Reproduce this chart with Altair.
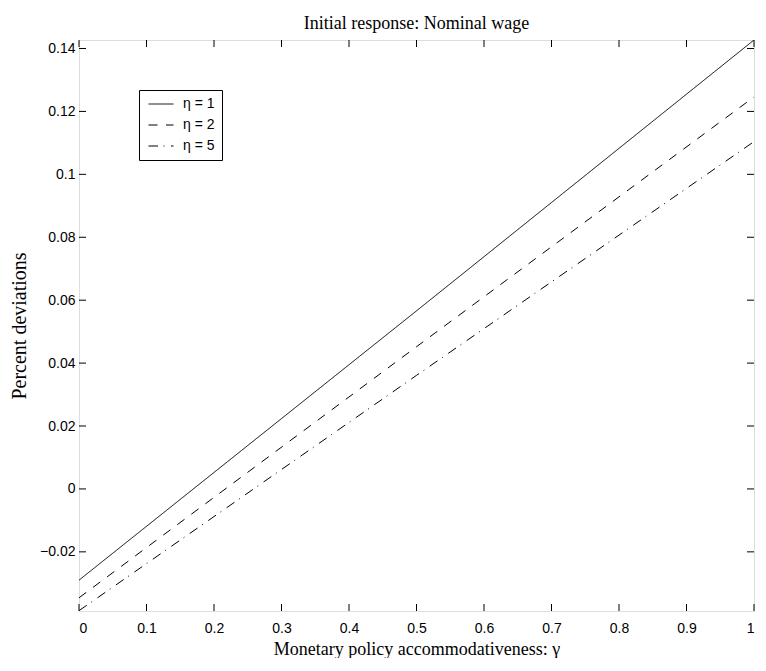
import altair as alt
import pandas as pd

# ---- data ----
gamma = [0.0, 0.5, 1.0]
eta_1 = [-0.0290, 0.0566, 0.1427]
eta_2 = [-0.0346, 0.0452, 0.1246]
eta_5 = [-0.0387, 0.0361, 0.1104]
series_names = ["η = 1", "η = 2", "η = 5"]

x_ticks = [0, 0.1, 0.2, 0.3, 0.4, 0.5, 0.6, 0.7, 0.8, 0.9, 1]
y_ticks = [-0.02, 0, 0.02, 0.04, 0.06, 0.08, 0.1, 0.12, 0.14]
x_domain = [0, 1]
y_domain = [-0.0388, 0.1427]

title_text = "Initial response: Nominal wage"
x_title = "Monetary policy accommodativeness: γ"
y_title = "Percent deviations"

rows = []
for name, vals in zip(series_names, [eta_1, eta_2, eta_5]):
    for g, v in zip(gamma, vals):
        rows.append({"gamma": g, "value": v, "series": name})
df = pd.DataFrame(rows)
xt = pd.DataFrame({"t": x_ticks})
yt = pd.DataFrame({"t": y_ticks})

W, H = 675, 571
TICK = 7
SANS = "Liberation Sans"
SERIF = "Liberation Serif"

xscale = alt.Scale(domain=x_domain, nice=False, zero=False)
yscale = alt.Scale(domain=y_domain, nice=False, zero=False)

lines = alt.Chart(df).mark_line(color="black", strokeWidth=1, clip=True).encode(
    x=alt.X("gamma:Q", scale=xscale,
            axis=alt.Axis(values=x_ticks, format="~f", title=x_title,
                          domain=False, ticks=False, tickSize=0, grid=False,
                          labelFont=SANS, labelFontSize=14, labelColor="black",
                          labelBaseline="alphabetic", labelPadding=21,
                          titleFont=SERIF, titleFontSize=18, titleFontWeight="normal",
                          titleColor="black", titleBaseline="alphabetic",
                          titleY=43, titleX=W / 2)),
    y=alt.Y("value:Q", scale=yscale,
            axis=alt.Axis(values=y_ticks, format="~f", title=y_title,
                          domain=False, ticks=False, tickSize=0, grid=False,
                          labelFont=SANS, labelFontSize=14, labelColor="black",
                          labelPadding=4,
                          titleFont=SERIF, titleFontSize=20, titleFontWeight="normal",
                          titleColor="black", titleBaseline="alphabetic",
                          titleAngle=270, titleX=-54, titleY=H / 2)),
    strokeDash=alt.StrokeDash(
        "series:N",
        scale=alt.Scale(domain=series_names,
                        range=[[1, 0], [9, 8.5], [9.5, 5.5, 1, 6.5]]),
        legend=alt.Legend(title=None, orient="none", legendX=60, legendY=50,
                          symbolType="stroke", symbolSize=625, symbolStrokeWidth=1,
                          symbolStrokeColor="black", symbolOffset=2,
                          labelFont=SANS, labelFontSize=14,
                          labelColor="black", labelOffset=9, padding=7,
                          clipHeight=14, rowPadding=7,
                          strokeColor="black", fillColor="white"),
    ),
)

tick_left = alt.Chart(yt).mark_rule(color="black", strokeWidth=1).encode(
    y=alt.Y("t:Q", scale=yscale), x=alt.value(0), x2=alt.value(TICK))
tick_right = alt.Chart(yt).mark_rule(color="black", strokeWidth=1).encode(
    y=alt.Y("t:Q", scale=yscale), x=alt.value(W), x2=alt.value(W - TICK))
tick_bottom = alt.Chart(xt).mark_rule(color="black", strokeWidth=1).encode(
    x=alt.X("t:Q", scale=xscale), y=alt.value(H), y2=alt.value(H - TICK))
tick_top = alt.Chart(xt).mark_rule(color="black", strokeWidth=1).encode(
    x=alt.X("t:Q", scale=xscale), y=alt.value(0), y2=alt.value(TICK))

chart = alt.layer(lines, tick_left, tick_right, tick_bottom, tick_top).properties(
    width=W, height=H,
    title=alt.TitleParams(title_text, font=SERIF, fontSize=18, fontWeight="normal",
                          color="black", anchor="middle", baseline="alphabetic", offset=-7),
    autosize=alt.AutoSizeParams(type="none"),
    padding={"left": 71, "top": 32, "right": 4, "bottom": 47},
).configure_view(stroke="black", strokeWidth=1).configure(background="white")

chart.save("out.html", embed_options={"renderer": "svg", "actions": False})
